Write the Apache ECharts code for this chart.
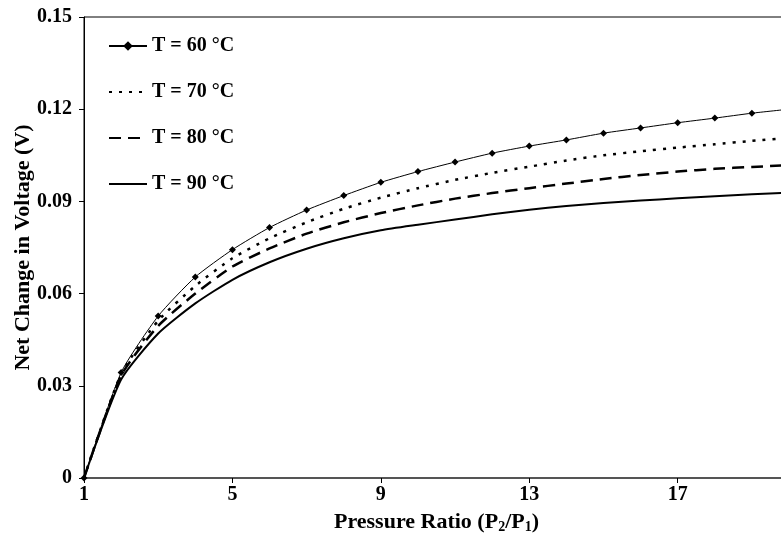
<!DOCTYPE html>
<html>
<head>
<meta charset="utf-8">
<script src="https://cdn.jsdelivr.net/npm/echarts@6/dist/echarts.min.js"></script>
<style>
  html, body { margin: 0; padding: 0; background: #fff; }
  #chart { width: 781px; height: 538px; }
</style>
</head>
<body>
<div id="chart"></div>
<script>
// pressure ratio P2/P1
const ratios = [1, 2, 3, 4, 5, 6, 7, 8, 9, 10, 11, 12, 13, 14, 15, 16, 17, 18, 19, 20];

// net change in voltage (V)
const t60 = [0, 0.0343, 0.0527, 0.0654, 0.0743, 0.0815, 0.0872, 0.0919, 0.0962, 0.0997,
  0.1028, 0.1057, 0.1080, 0.1100, 0.1122, 0.1139, 0.1156, 0.1171, 0.1187, 0.1200];
const t70 = [0, 0.0338, 0.0512, 0.0625, 0.0715, 0.0780, 0.0832, 0.0876, 0.0912, 0.0943,
  0.0970, 0.0993, 0.1013, 0.1033, 0.1050, 0.1063, 0.1075, 0.1086, 0.1097, 0.1107];
const t80 = [0, 0.0333, 0.0495, 0.0600, 0.0688, 0.0747, 0.0795, 0.0832, 0.0862, 0.0887,
  0.0909, 0.0927, 0.0943, 0.0958, 0.0973, 0.0986, 0.0997, 0.1006, 0.1012, 0.1018];
const t90 = [0, 0.0320, 0.0470, 0.0568, 0.0645, 0.0702, 0.0746, 0.0780, 0.0806, 0.0824,
  0.0841, 0.0858, 0.0873, 0.0885, 0.0895, 0.0903, 0.0910, 0.0917, 0.0923, 0.0929];

const seriesNames = ["T = 60 °C", "T = 70 °C", "T = 80 °C", "T = 90 °C"];

const FONT = "Liberation Serif";

function pairs(ys) {
  return ratios.map((x, i) => [x, ys[i]]);
}

var chart = echarts.init(document.getElementById("chart"));

chart.setOption({
  animation: false,
  grid: {
    left: 84,
    right: -8,
    top: 17,
    bottom: 60,
    outerBoundsMode: "none",
    show: true,
    borderColor: "#000",
    borderWidth: 1,
  },
  legend: {
    orient: "vertical",
    left: 103,
    top: 31,
    itemWidth: 38,
    itemHeight: 12,
    itemGap: 26,
    data: [
      { name: seriesNames[0] },
      // no marker on the plain line keys
      { name: seriesNames[1], itemStyle: { opacity: 0 } },
      { name: seriesNames[2], itemStyle: { opacity: 0 } },
      { name: seriesNames[3], itemStyle: { opacity: 0 } },
    ],
    textStyle: { fontFamily: FONT, fontWeight: "bold", fontSize: 20, color: "#000" },
  },
  xAxis: {
    type: "value",
    min: 1,
    max: 20,
    interval: 4,
    name: "Pressure Ratio (P{sub|2}/P{sub|1})",
    nameLocation: "middle",
    nameGap: 32,
    nameTextStyle: {
      fontFamily: FONT, fontWeight: "bold", fontSize: 22, color: "#000",
      rich: { sub: { fontFamily: FONT, fontWeight: "bold", fontSize: 14, verticalAlign: "bottom", padding: [10, 0, 0, 0] } },
    },
    axisLine: { lineStyle: { color: "#555", width: 2 } },
    axisTick: { inside: false, length: 5, lineStyle: { color: "#000" } },
    axisLabel: { fontFamily: FONT, fontWeight: "bold", fontSize: 20, color: "#000", margin: 7, showMaxLabel: false },
    splitLine: { show: false },
  },
  yAxis: {
    type: "value",
    min: 0,
    max: 0.15,
    interval: 0.03,
    name: "Net Change in Voltage (V)",
    nameLocation: "middle",
    nameGap: 50,
    nameMoveOverlap: false,
    nameTextStyle: { fontFamily: FONT, fontWeight: "bold", fontSize: 22, color: "#000" },
    axisLine: { show: true, lineStyle: { color: "#000", width: 1 } },
    axisTick: { show: true, length: 5, lineStyle: { color: "#000" } },
    axisLabel: {
      fontFamily: FONT, fontWeight: "bold", fontSize: 20, color: "#000", margin: 12,
      formatter: v => (v === 0 ? "0" : v.toFixed(2)),
    },
    splitLine: { show: false },
  },
  series: [
    {
      name: seriesNames[0],
      type: "line",
      data: pairs(t60),
      symbol: "diamond",
      symbolSize: 7,
      smooth: 0.2,
      itemStyle: { color: "#000" },
      lineStyle: { color: "#000", width: 1 },
    },
    {
      name: seriesNames[1],
      type: "line",
      data: pairs(t70),
      symbol: "none",
      smooth: 0.2,
      itemStyle: { color: "#000" },
      lineStyle: { color: "#000", width: 2.5, type: [3, 7] },
    },
    {
      name: seriesNames[2],
      type: "line",
      data: pairs(t80),
      symbol: "none",
      smooth: 0.2,
      itemStyle: { color: "#000" },
      lineStyle: { color: "#000", width: 2.5, type: [12, 7] },
    },
    {
      name: seriesNames[3],
      type: "line",
      data: pairs(t90),
      symbol: "none",
      smooth: 0.2,
      itemStyle: { color: "#000" },
      lineStyle: { color: "#000", width: 2 },
    },
  ],
});
</script>
</body>
</html>
